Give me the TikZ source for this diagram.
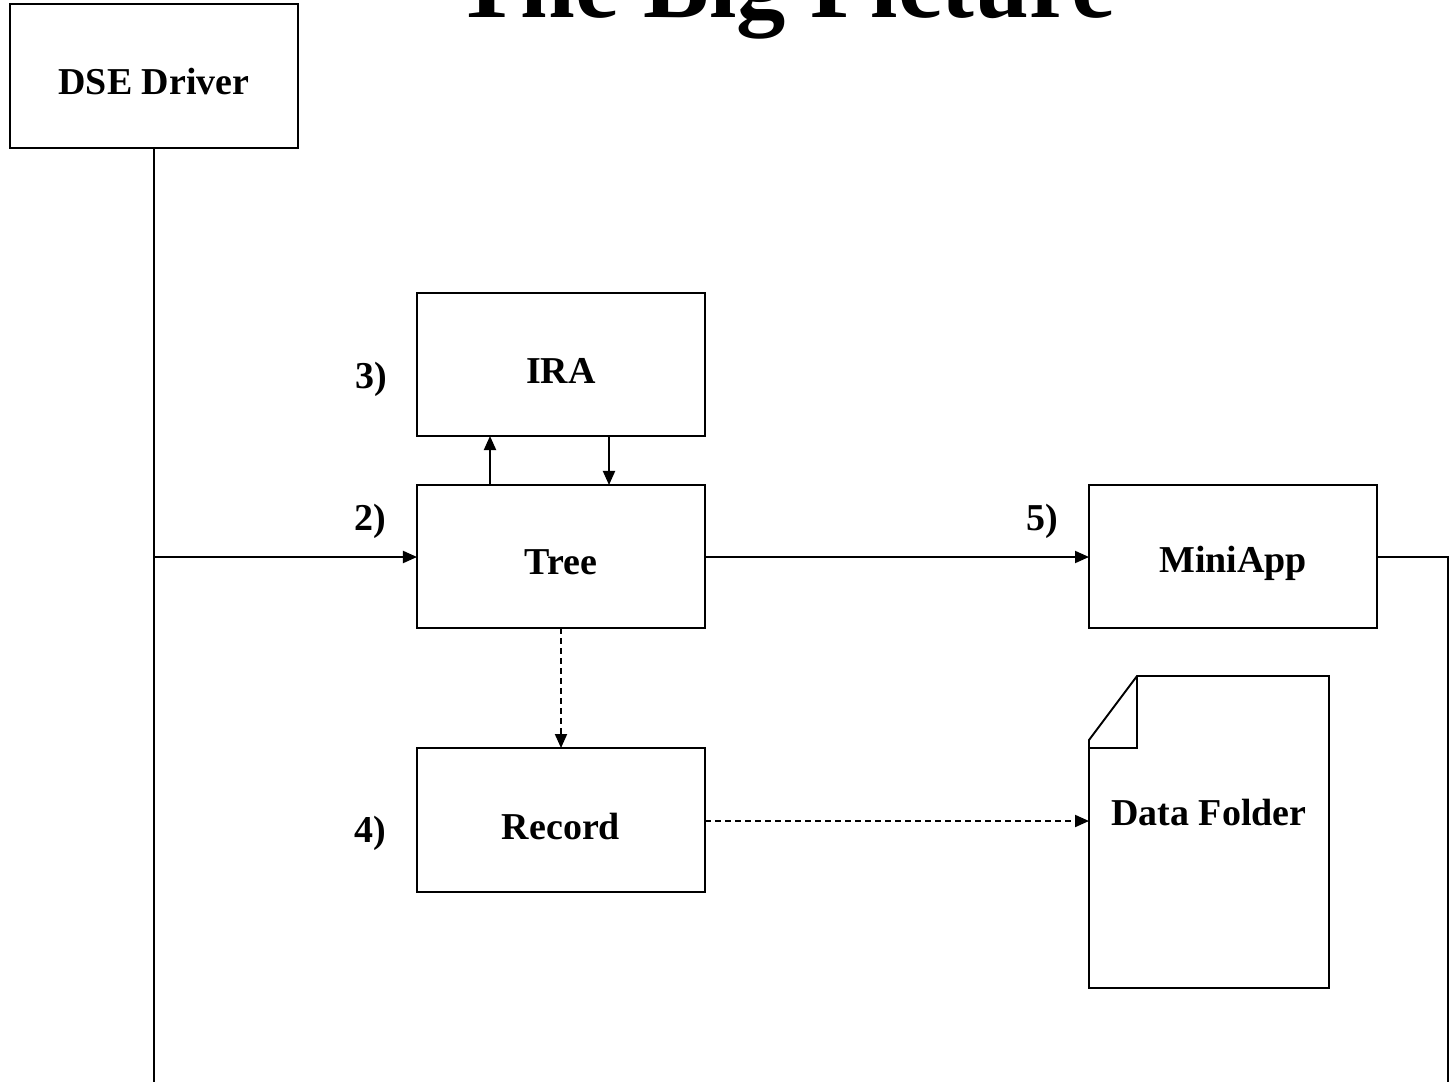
\documentclass[tikz,border=0pt]{standalone}
\usepackage{fontspec}
\setmainfont{Liberation Serif}
\usetikzlibrary{arrows.meta}
\begin{document}
\begin{tikzpicture}[x=0.01cm,y=-0.01cm,
  every node/.style={font=\bfseries\fontsize{10.8}{13}\selectfont},
  conn/.style={line width=0.55pt},
  tip/.style={-{Triangle[length=0.14cm,width=0.12cm]}},
  dashconn/.style={conn,dash pattern=on 0.06cm off 0.04cm}]
  \useasboundingbox (0,0) rectangle (1449,1082);
  \clip (0,0) rectangle (1449,1082);
  \fill[white] (0,0) rectangle (1449,1082);

  % title, running over the top edge
  \node[font=\bfseries\fontsize{28}{30}\selectfont,anchor=base] (title) at (785,18) {The Big Picture};

  % boxes
  \draw[conn] (10,4) rectangle (298,148);
  \node (dse) at (154,82) {DSE Driver};
  \coordinate (dseS) at (154,148);

  \draw[conn] (417,293) rectangle (705,436);
  \node (ira) at (561,371) {IRA};
  \draw[conn] (417,485) rectangle (705,628);
  \node (tree) at (561,562) {Tree};
  \draw[conn] (417,748) rectangle (705,892);
  \node (rec) at (561,826) {Record};
  \draw[conn] (1089,485) rectangle (1377,628);
  \node (mini) at (1233,563) {MiniApp};

  % document shape with folded corner
  \draw[conn,line join=miter] (1137,676) -- (1329,676) -- (1329,988) -- (1089,988) -- (1089,740) -- cycle;
  \draw[conn] (1089,748) -- (1137,748) -- (1137,676);
  \node (data) at (1209,812) {Data Folder};

  % anchor coordinates on box edges
  \coordinate (treeW) at (417,557);
  \coordinate (treeE) at (705,557);
  \coordinate (treeN1) at (490,485);
  \coordinate (treeN2) at (609,485);
  \coordinate (treeS) at (561,628);
  \coordinate (iraS1) at (490,436);
  \coordinate (iraS2) at (609,436);
  \coordinate (recN) at (561,748);
  \coordinate (recE) at (705,821);
  \coordinate (dataW) at (1089,821);
  \coordinate (miniW) at (1089,557);
  \coordinate (miniE) at (1377,557);
  \coordinate (branch) at (154,557);
  \coordinate (bottomL) at (154,1082);
  \coordinate (cornerR) at (1448,557);
  \coordinate (bottomR) at (1448,1082);

  % connectors
  \draw[conn] (dseS) -- (bottomL);
  \draw[conn,tip] (branch) -- (treeW);
  \draw[conn,tip] (treeN1) -- (iraS1);
  \draw[conn,tip] (iraS2) -- (treeN2);
  \draw[conn,tip] (treeE) -- (miniW);
  \draw[dashconn,tip] (treeS) -- (recN);
  \draw[dashconn,tip] (recE) -- (dataW);
  \draw[conn] (miniE) -- (cornerR) -- (bottomR);

  % step labels
  \node (l3) at (371,379) {3)};
  \node (l2) at (370,521) {2)};
  \node (l4) at (370,833) {4)};
  \node (l5) at (1042,521) {5)};
\end{tikzpicture}
\end{document}
